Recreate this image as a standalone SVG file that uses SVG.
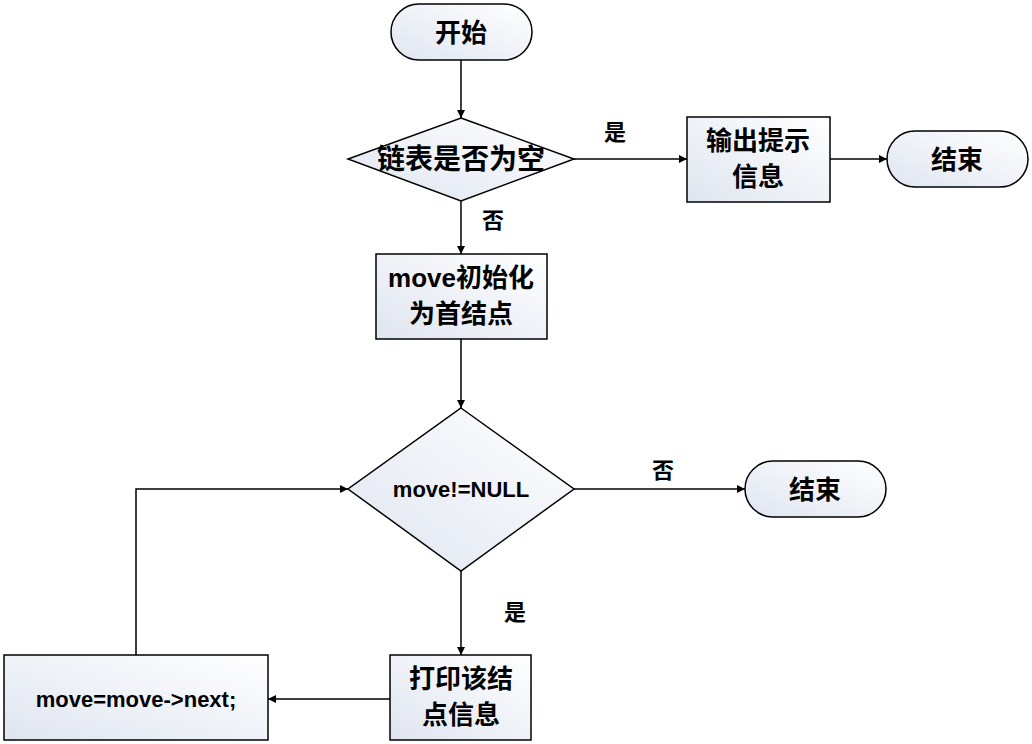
<svg xmlns="http://www.w3.org/2000/svg" width="1032" height="744" viewBox="0 0 1032 744">
<style>
.n{fill:url(#g);stroke:#000;stroke-width:1.5}
.t{font-family:"Liberation Sans","Noto Sans CJK SC",sans-serif;font-weight:bold;font-size:26px;text-anchor:middle;fill:#000}
.l{font-family:"Liberation Sans","Noto Sans CJK SC",sans-serif;font-weight:bold;font-size:22px;text-anchor:middle;fill:#000}
.c{fill:none;stroke:#000;stroke-width:1.5;marker-end:url(#a)}
</style>
<defs>
<linearGradient id="g" x1="0" y1="1" x2="1" y2="0"><stop offset="0" stop-color="#dfe5f0"/><stop offset="1" stop-color="#ffffff"/></linearGradient>
<marker id="a" viewBox="0 0 10 10" refX="10" refY="5" markerWidth="8" markerHeight="8" markerUnits="userSpaceOnUse" orient="auto"><path d="M0,0 L10,5 L0,10 z" fill="#000"/></marker>
</defs>
<rect width="1032" height="744" fill="#fff"/>
<g id="connectors">
<path class="c" d="M461,60 V118"/>
<path class="c" d="M574,159 H687"/>
<path class="c" d="M830,159 H887"/>
<path class="c" d="M461,201 V254"/>
<path class="c" d="M461,339 V408"/>
<path class="c" d="M574,489 H745"/>
<path class="c" d="M461,571 V655"/>
<path class="c" d="M390,699 H268"/>
<path class="c" d="M136,655 V489 H348"/>
<text class="l" x="615" y="140">是</text>
<text class="l" x="493" y="228">否</text>
<text class="l" x="663" y="478">否</text>
<text class="l" x="515" y="620">是</text>
</g>
<g id="start"><rect class="n" x="391" y="4" width="141" height="56" rx="28"/><text class="t" x="461" y="42">开始</text></g>
<g id="empty"><path class="n" d="M461,118 L574,159 L461,201 L348,159 Z"/><text class="t" x="461" y="169" style="font-size:28px">链表是否为空</text></g>
<g id="msg"><rect class="n" x="687" y="117" width="143" height="85"/><text class="t" x="758" y="150">输出提示</text><text class="t" x="758" y="186">信息</text></g>
<g id="end1"><rect class="n" x="887" y="131" width="141" height="56" rx="28"/><text class="t" x="957" y="169">结束</text></g>
<g id="init"><rect class="n" x="376" y="254" width="171" height="85"/><text class="t" x="461" y="287">move初始化</text><text class="t" x="461" y="323">为首结点</text></g>
<g id="cond"><path class="n" d="M461,408 L574,489 L461,571 L348,489 Z"/><text class="l" x="461" y="497">move!=NULL</text></g>
<g id="end2"><rect class="n" x="745" y="461" width="141" height="56" rx="28"/><text class="t" x="815" y="499">结束</text></g>
<g id="print"><rect class="n" x="390" y="655" width="141" height="85"/><text class="t" x="461" y="688">打印该结</text><text class="t" x="461" y="724">点信息</text></g>
<g id="next"><rect class="n" x="4" y="655" width="264" height="85"/><text class="l" x="136" y="707">move=move-&gt;next;</text></g>
</svg>
